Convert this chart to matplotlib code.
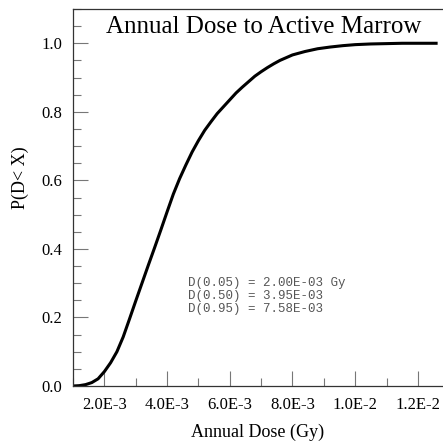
import numpy as np
import matplotlib
matplotlib.use("Agg")
import matplotlib.pyplot as plt
from matplotlib.ticker import MultipleLocator, FuncFormatter

# cumulative probability of annual dose, dose in 1E-3 Gy
dose = np.array([1.0, 1.2, 1.4, 1.6, 1.8, 2.0, 2.2, 2.4, 2.6, 2.8, 3.0, 3.2,
                 3.4, 3.6, 3.8, 4.0, 4.2, 4.4, 4.6, 4.8, 5.0, 5.2, 5.4, 5.6,
                 5.8, 6.0, 6.2, 6.4, 6.6, 6.8, 7.0, 7.2, 7.4, 7.6, 7.8, 8.0,
                 8.4, 8.8, 9.2, 9.6, 10.0, 10.5, 11.0, 11.5, 12.0, 12.58]) * 1e-3
prob = np.array([0.000, 0.001, 0.004, 0.010, 0.021, 0.042, 0.068, 0.100,
                 0.143, 0.195, 0.248, 0.300, 0.352, 0.403, 0.455, 0.508,
                 0.560, 0.605, 0.645, 0.683, 0.716, 0.746, 0.771, 0.795,
                 0.815, 0.835, 0.855, 0.872, 0.888, 0.904, 0.917, 0.929,
                 0.940, 0.950, 0.958, 0.966, 0.976, 0.984, 0.989, 0.993,
                 0.996, 0.998, 0.999, 1.000, 1.000, 1.000])

x_ticks = [2e-3, 4e-3, 6e-3, 8e-3, 1e-2, 1.2e-2]
x_labels = ["2.0E-3", "4.0E-3", "6.0E-3", "8.0E-3", "1.0E-2", "1.2E-2"]
stats = ["D(0.05) = 2.00E-03 Gy",
         "D(0.50) = 3.95E-03",
         "D(0.95) = 7.58E-03"]

plt.rcParams['font.family'] = ['Liberation Serif', 'DejaVu Serif']

fig = plt.figure(figsize=(4.43, 4.42), dpi=100)
W, H = 443, 442
ax = fig.add_axes([73 / W, 1 - 386 / H, (W - 73) / W, (386 - 9) / H])

ax.plot(dose, prob, color='black', lw=2.2, solid_joinstyle='round')

ax.set_xlim(1e-3, 0.0128)
ax.set_ylim(0, 1.1)

ax.set_xticks(x_ticks)
ax.set_xticklabels(x_labels)
ax.xaxis.set_minor_locator(MultipleLocator(1e-3))
ax.yaxis.set_major_locator(MultipleLocator(0.2))
ax.yaxis.set_minor_locator(MultipleLocator(0.05))
ax.yaxis.set_major_formatter(FuncFormatter(lambda v, p: "%.1f" % v))

for s in ['left', 'bottom', 'top']:
    ax.spines[s].set_color('#333333')
    ax.spines[s].set_linewidth(0.9)
ax.spines['right'].set_visible(False)

ax.tick_params(which='major', direction='in', length=11, width=0.8,
               color='#777777', labelsize=12, pad=8)
ax.tick_params(which='minor', direction='in', length=6, width=0.8,
               color='#777777')
ax.tick_params(axis='both', which='both', top=False, right=False)

# title sits inside the frame
fig.text(264 / W, 1 - 27 / H, "Annual Dose to Active Marrow",
         fontsize=18, ha='center', va='center')

fig.text(258 / W, 1 - 432 / H, "Annual Dose (Gy)", fontsize=13,
         ha='center', va='center')
fig.text(20 / W, 1 - 178 / H, "P(D< X)", fontsize=13, rotation=90,
         ha='center', va='center')

fig.text(188 / W, 1 - 296 / H, "\n".join(stats), family='Liberation Mono',
         fontsize=9, color='#555555', ha='left', va='center', linespacing=1.1)

fig.savefig("out.png", dpi=100)
